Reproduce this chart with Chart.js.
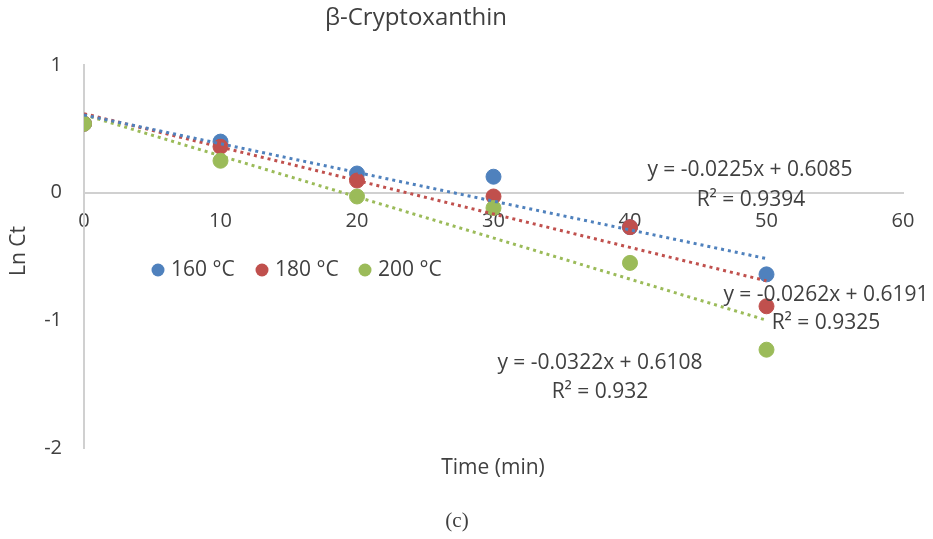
<!DOCTYPE html>
<html><head><meta charset="utf-8">
<script src="https://cdn.jsdelivr.net/npm/chart.js@4/dist/chart.umd.min.js"></script>
<style>html,body{margin:0;padding:0;background:#fff}#wrap{width:933px;height:539px}</style>
</head><body><div id="wrap"><canvas id="c" width="933" height="539"></canvas></div>
<script>
const times = [0, 10, 20, 30, 40, 50];
const seriesNames = ['160 °C', '180 °C', '200 °C'];
const ln160 = [0.54, 0.40, 0.15, 0.125, -0.27, -0.64];
const ln180 = [0.54, 0.36, 0.095, -0.03, -0.27, -0.89];
const ln200 = [0.54, 0.25, -0.03, -0.12, -0.55, -1.23];
const slopes = [-0.0225, -0.0262, -0.0322];
const intercepts = [0.6085, 0.6191, 0.6108];
const r2 = ['0.9394', '0.9325', '0.932'];
const xTicks = [0, 10, 20, 30, 40, 50, 60];
const yTicks = [-2, -1, 0, 1];
const colors = ['#4F81BD', '#C0504D', '#9BBB59'];
const FONT = 'Open Sans';
const TXT = '#404040';

const values = [ln160, ln180, ln200];
const datasets = [];
values.forEach((v, i) => {
  datasets.push({
    label: seriesNames[i], data: times.map((t, k) => ({x: t, y: v[k]})),
    backgroundColor: colors[i], borderColor: colors[i], pointRadius: 7.5, pointHoverRadius: 7.5,
    showLine: false, order: 10 - i
  });
});
values.forEach((v, i) => {
  const x0 = times[0], x1 = times[times.length - 1];
  datasets.push({
    label: 'trend' + i, type: 'line',
    data: [{x: x0, y: slopes[i] * x0 + intercepts[i]}, {x: x1, y: slopes[i] * x1 + intercepts[i]}],
    borderColor: colors[i], borderWidth: 3, borderDash: [3, 4], pointRadius: 0, fill: false, order: 1
  });
});

function eqText(i) {
  return 'y = ' + slopes[i].toFixed(4) + 'x + ' + intercepts[i].toFixed(4);
}

const textPlugin = {
  id: 'texts',
  afterDraw(chart) {
    const ctx = chart.ctx;
    ctx.save();
    ctx.fillStyle = TXT;
    ctx.textAlign = 'center';
    ctx.textBaseline = 'middle';
    ctx.font = '24px "' + FONT + '"';
    ctx.fillText('β-Cryptoxanthin', 416, 18);
    ctx.font = '21px "' + FONT + '"';
    ctx.fillText('Time (min)', 493, 468);
    ctx.save();
    ctx.translate(19, 251);
    ctx.rotate(-Math.PI / 2);
    ctx.fillText('Ln Ct', 0, 0);
    ctx.restore();
    ctx.font = '21px "Liberation Serif"';
    ctx.fillText('(c)', 457, 521);
    // trendline equations
    ctx.font = '21px "' + FONT + '"';
    const eqPos = [[750, 170, 751, 200], [826, 295, 826, 323], [600, 363, 600, 392]];
    eqPos.forEach((p, i) => {
      ctx.fillText(eqText(i), p[0], p[1]);
      ctx.fillText('R² = ' + r2[i], p[2], p[3]);
    });
    // legend
    const legX = [158, 262, 365];
    ctx.textAlign = 'left';
    seriesNames.forEach((n, i) => {
      ctx.beginPath();
      ctx.fillStyle = colors[i];
      ctx.arc(legX[i], 270, 6.5, 0, Math.PI * 2);
      ctx.fill();
      ctx.fillStyle = TXT;
      ctx.fillText(n, legX[i] + 13, 270);
    });
    ctx.restore();
  }
};

new Chart(document.getElementById('c'), {
  type: 'scatter',
  data: {datasets},
  options: {
    responsive: false, animation: false,
    layout: {padding: {top: 65, bottom: 91, right: 30, left: 0}},
    plugins: {legend: {display: false}, tooltip: {enabled: false}},
    scales: {
      x: {
        type: 'linear', position: {y: 0}, min: 0, max: 60,
        afterBuildTicks: s => { s.ticks = xTicks.map(v => ({value: v})); },
        grid: {display: false, drawTicks: false},
        border: {display: true, color: '#D0D0D0', width: 2},
        ticks: {padding: 17, color: TXT, font: {family: FONT, size: 20}}
      },
      y: {
        type: 'linear', min: -2, max: 1,
        afterBuildTicks: s => { s.ticks = yTicks.map(v => ({value: v})); },
        afterFit: s => { s.width = 84; },
        grid: {display: false, drawTicks: false},
        border: {display: true, color: '#D0D0D0', width: 2},
        ticks: {padding: 22, color: TXT, font: {family: FONT, size: 20}}
      }
    }
  },
  plugins: [textPlugin]
});
</script></body></html>
